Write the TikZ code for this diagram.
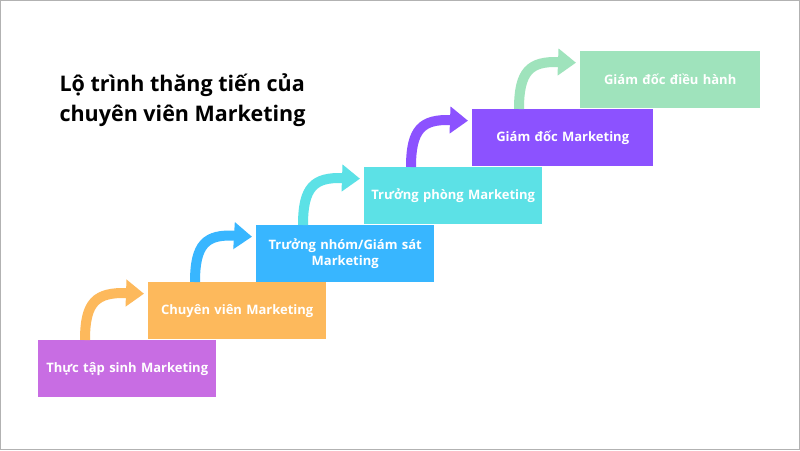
\documentclass[tikz,border=0pt]{standalone}
\usepackage{fontspec}
\setmainfont{Open Sans}
\usetikzlibrary{arrows.meta}
\definecolor{cA}{HTML}{C86DE3}
\definecolor{cB}{HTML}{FDB95C}
\definecolor{cC}{HTML}{38B6FF}
\definecolor{cD}{HTML}{5CE1E6}
\definecolor{cE}{HTML}{8C52FF}
\definecolor{cF}{HTML}{9FE3BC}
\tikzset{
  stepbox/.style={anchor=north west,minimum width=178pt,minimum height=57pt,inner sep=2pt,text=white,font=\bfseries\fontsize{13}{16}\selectfont,align=center,text width=170pt},
  uparrow/.style={line width=10pt,-{Triangle[width=26pt,length=18pt]}}
}
\begin{document}
\begin{tikzpicture}[x=1pt,y=-1pt]
\draw[gray!60,line width=1pt,fill=white] (0.5,0.5) rectangle (799.5,449.5);
\node[anchor=west,font=\bfseries\fontsize{21.5}{30}\selectfont,align=left] (title) at (56,100) {Lộ trình thăng tiến của\\chuyên viên Marketing};
\node[stepbox,fill=cA] (b1) at (38,340) {Thực tập sinh Marketing};
\node[stepbox,fill=cB] (b2) at (148,282) {Chuyên viên Marketing};
\node[stepbox,fill=cC] (b3) at (256,225) {Trưởng nhóm/Giám sát\\Marketing};
\node[stepbox,fill=cD] (b4) at (364,167) {Trưởng phòng Marketing};
\node[stepbox,fill=cE,minimum width=181pt] (b5) at (472,109) {Giám đốc Marketing};
\node[stepbox,fill=cF,minimum width=180pt] (b6) at (580,51) {Giám đốc điều hành};
\foreach \a/\b/\c in {b1/b2/cB,b2/b3/cC,b3/b4/cD,b4/b5/cE,b5/b6/cF}{
  \draw[uparrow,\c] ([xshift=47pt]\a.north west) .. controls ([xshift=47pt,yshift=38pt]\a.north west) and ([xshift=58pt,yshift=48pt]\a.north west) .. ([xshift=-4pt,yshift=17pt]\b.west);
}
\end{tikzpicture}
\end{document}
